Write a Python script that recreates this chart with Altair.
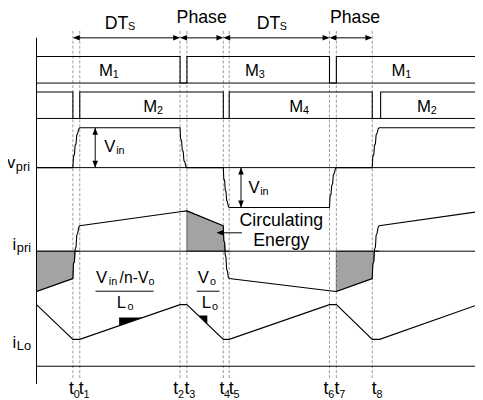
import altair as alt
import pandas as pd
import numpy as np

# ---------------- data ----------------
# switching instants t0..t8 (time units, t0 = 0)
T_NAMES = ["0", "1", "2", "3", "4", "5", "6", "7", "8"]
T_EVENTS = [0, 7, 109, 116, 153, 159, 261, 268, 304.5]
T_START, T_END = -37, 409

# gate signals (1 = on)
GATE_A_T = [-37, 109, 109, 116, 116, 261, 261, 268, 268, 409]
GATE_A_V = [1, 1, 0, 0, 1, 1, 0, 0, 1, 1]
GATE_B_T = [-37, 0, 0, 7, 7, 153, 153, 159, 159, 304.5, 304.5, 313, 313, 409]
GATE_B_V = [1, 1, 0, 0, 1, 1, 0, 0, 1, 1, 0, 0, 1, 1]

# staircase shape of a resonant transition (fraction of time / of swing)
STEP_T = [0, .08, .22, .32, .46, .56, .70, .85, 1]
STEP_V = [0, .28, .32, .55, .60, .82, .86, .97, 1]

# primary voltage (per unit of Vin): flat segments and transitions
VPRI_FLAT = [(-37, 0), (0, 0)]
VPRI_TRANS = [(0, 7, 0, 1), (109, 116, 1, 0), (153, 159, 0, -1),
              (261, 268, -1, 0), (304.5, 311.5, 0, 1)]
VPRI_END = (409, 1)

# primary current (per unit)
IPRI_PTS = [(-37, -1.0)]
IPRI_TRANS = [(0, 7, -0.68, 0.63), (109, 109, 0.98, 0.98), (116, 116, 1.0, 1.0),
              (153, 159, 0.63, -0.68), (261, 261, -0.98, -0.98), (268, 268, -1.0, -1.0),
              (304.5, 311.5, -0.68, 0.63)]
IPRI_END = (409, 0.97)

# output inductor current (per unit)
ILO_T = [-37, 0, 7, 109, 116, 153, 159, 261, 268, 304.5, 312, 409]
ILO_V = [1.79, 0.78, 0.78, 1.79, 1.79, 0.78, 0.78, 1.79, 1.79, 0.78, 0.78, 1.76]

# ---------------- layout ----------------
X0, Y0 = 74, 8          # page px of t0 / top of chart
W, H = 475, 392
ROW = {"A": (73, 27), "B": (109, 27), "vpri": (159, 40.5), "ipri": (244, 41), "ilo": (361, 35)}
FONT = "Liberation Sans"


def ypos(row, v):
    base, gain = ROW[row]
    return base - gain * np.asarray(v, dtype=float)


def build_trans(flat_start, trans, end):
    ts, vs = [p[0] for p in flat_start], [p[1] for p in flat_start]
    for a, b, v0, v1 in trans:
        if a == b:
            ts.append(a); vs.append(v0); continue
        for ft, fv in zip(STEP_T, STEP_V):
            ts.append(a + (b - a) * ft); vs.append(v0 + (v1 - v0) * fv)
    ts.append(end[0]); vs.append(end[1])
    return np.array(ts), np.array(vs)


VPRI_T, VPRI_V = build_trans(VPRI_FLAT, VPRI_TRANS, VPRI_END)
IPRI_T, IPRI_V = build_trans(IPRI_PTS, IPRI_TRANS, IPRI_END)

lines = []
def add_line(name, ts, ys):
    for i, (t, y) in enumerate(zip(ts, ys)):
        lines.append({"s": name, "i": i, "x": float(t), "y": float(y)})

add_line("gA", GATE_A_T, ypos("A", GATE_A_V))
add_line("gB", GATE_B_T, ypos("B", GATE_B_V))
add_line("vpri", VPRI_T, ypos("vpri", VPRI_V))
add_line("ipri", IPRI_T, ypos("ipri", IPRI_V))
add_line("ilo", ILO_T, ypos("ilo", ILO_V))
lines_df = pd.DataFrame(lines)

# shaded circulating-energy areas
fills = []
for k, (a, b, sign) in enumerate([(-37, 7, -1), (116, 159, 1), (268, 311.5, -1)]):
    m = (IPRI_T >= a) & (IPRI_T <= b)
    for t, v in zip(IPRI_T[m], IPRI_V[m]):
        vv = min(v, 0) if sign < 0 else max(v, 0)
        fills.append({"g": k, "x": float(t), "y": float(ypos("ipri", vv)), "y2": float(ypos("ipri", 0))})
fills_df = pd.DataFrame(fills)

# slope triangles on iLo
def ilo(t):
    return float(np.interp(t, ILO_T, ILO_V))
tri = []
a, b = 47, 71
tri += [{"g": 0, "x": a, "y": ypos("ilo", ilo(b)), "y2": ypos("ilo", ilo(a))},
        {"g": 0, "x": b, "y": ypos("ilo", ilo(b)), "y2": ypos("ilo", ilo(b))}]
a, b = 127.7, 136.7
tri += [{"g": 1, "x": a, "y": ypos("ilo", ilo(a)), "y2": ypos("ilo", ilo(a))},
        {"g": 1, "x": b, "y": ypos("ilo", ilo(a)), "y2": ypos("ilo", ilo(b))}]
tri_df = pd.DataFrame([{k: (float(v) if k != "g" else v) for k, v in d.items()} for d in tri])

# rules: baselines, axis, arrows, fraction bars
rules = []
for r in ["A", "B", "vpri", "ipri", "ilo"]:
    base = ROW[r][0]
    rules.append({"x": T_START, "x2": T_END, "y": base, "y2": base})
rules.append({"x": T_START, "x2": T_START, "y": 27, "y2": 379})
ARROW_SEGS = [(0, 109), (109, 153), (153, 261), (261, 304.5)]
for a, b in ARROW_SEGS:
    rules.append({"x": a + 2, "x2": b - 2, "y": 27, "y2": 27})
VIN_ARROWS = [(22.7, "vpri", 1), (171, "vpri", -1)]
for t, r, v in VIN_ARROWS:
    rules.append({"x": t, "x2": t, "y": float(ypos(r, 0)), "y2": float(ypos(r, v))})
CIRC = (172, 146, 225.3)
rules.append({"x": CIRC[0], "x2": CIRC[1] + 3, "y": CIRC[2], "y2": CIRC[2]})
for xa, xb in [(23, 82), (126, 149)]:
    rules.append({"x": xa, "x2": xb, "y": 284.7, "y2": 284.7})
rules_df = pd.DataFrame(rules).astype(float)

dash_df = pd.DataFrame({"x": T_EVENTS, "y": [20] * 9, "y2": [375] * 9}).astype(float)

# arrow heads: tip position and angle
HL = 3.5
heads = []
for a, b in ARROW_SEGS:
    heads.append({"x": a + HL, "y": 27, "ang": 180})
    heads.append({"x": b - HL, "y": 27, "ang": 0})
for t, r, v in VIN_ARROWS:
    y0, y1 = float(ypos(r, 0)), float(ypos(r, v))
    top, bot = min(y0, y1), max(y0, y1)
    heads.append({"x": t, "y": top + HL, "ang": 270})
    heads.append({"x": t, "y": bot - HL, "ang": 90})
heads.append({"x": CIRC[1] + HL, "y": CIRC[2], "ang": 180})
heads_df = pd.DataFrame(heads).astype(float)

# text (page px, baseline); size
texts = [
    ("DT", 106.5, 25.7, 18, "left"), ("S", 130, 27.5, 11, "left"),
    ("Phase", 205, 20, 18, "center"),
    ("DT", 261, 25.7, 18, "left"), ("S", 284.5, 27.5, 11, "left"),
    ("Phase", 361, 20, 18, "center"),
    ("M", 100.5, 74, 17, "left"), ("1", 114.5, 75.5, 11, "left"),
    ("M", 145.5, 110.5, 17, "left"), ("2", 159.5, 112.5, 11, "left"),
    ("M", 249, 74, 17, "left"), ("3", 263, 75.5, 11, "left"),
    ("M", 398, 74, 17, "left"), ("1", 412, 75.5, 11, "left"),
    ("M", 294, 110.5, 17, "left"), ("4", 308, 112.5, 11, "left"),
    ("M", 424, 110.5, 17, "left"), ("2", 438, 112.5, 11, "left"),
    ("v", 7, 167, 17, "left"), ("pri", 16, 170, 13, "left"),
    ("i", 12.5, 251, 17, "left"), ("pri", 17, 253, 13, "left"),
    ("i", 12.5, 350.5, 17, "left"), ("Lo", 17, 352.5, 13, "left"),
    ("V", 106, 151.5, 17, "left"), ("in", 118, 153.5, 11, "left"),
    ("V", 252.5, 193.3, 17, "left"), ("in", 264.5, 195.3, 11, "left"),
    ("Circulating", 286, 226.7, 18, "center"), ("Energy", 286, 246.5, 18, "center"),
    ("V", 97.5, 284.5, 17, "left"), ("in", 110.5, 286.5, 11, "left"),
    ("/n-V", 121.5, 284.5, 16, "left"), ("o", 151, 286.5, 11, "left"),
    ("L", 118.5, 310, 17, "left"), ("o", 129.5, 312, 11, "left"),
    ("V", 201, 284.5, 17, "left"), ("o", 213.5, 286.5, 11, "left"),
    ("L", 205, 310, 17, "left"), ("o", 215.5, 312, 11, "left"),
]
T_LABEL_X = [70, 80, 176, 187.5, 223, 232.5, 329, 340, 378]
for name, px in zip(T_NAMES, T_LABEL_X):
    texts.append(("t", px, 397, 18, "left"))
    texts.append((name, px + 4.8, 401, 11, "left"))
text_df = pd.DataFrame([{"text": t, "x": float(px - X0), "y": float(py - Y0), "size": s, "al": al}
                        for t, px, py, s, al in texts])

# ---------------- chart ----------------
xs = alt.Scale(domain=[-(X0 - 8), W - (X0 - 8)], nice=False, zero=False)
ys = alt.Scale(domain=[H, 0], nice=False, zero=False)


def X(f="x"):
    return alt.X(f"{f}:Q", scale=xs, axis=None)


def Y(f="y"):
    return alt.Y(f"{f}:Q", scale=ys, axis=None)


fill_layer = alt.Chart(fills_df).mark_area(color="#a3a3a3", stroke="#333333", strokeWidth=0.8,
                                           interpolate="linear").encode(
    x=X(), y=Y(), y2="y2:Q", detail="g:N")
tri_layer = alt.Chart(tri_df).mark_area(color="black").encode(x=X(), y=Y(), y2="y2:Q", detail="g:N")
dash_layer = alt.Chart(dash_df).mark_rule(color="#9a9a9a", strokeDash=[3, 2], strokeWidth=1).encode(
    x=X(), y=Y(), y2="y2:Q")
rule_layer = alt.Chart(rules_df).mark_rule(color="black", strokeWidth=1).encode(
    x=X(), x2="x2:Q", y=Y(), y2="y2:Q")
line_layer = alt.Chart(lines_df).mark_line(color="black", strokeWidth=1.1).encode(
    x=X(), y=Y(), detail="s:N", order="i:Q")
head_layer = alt.Chart(heads_df).mark_point(
    shape="M1,0L-1,-0.8L-1,0.8Z", filled=True, color="black", size=49, opacity=1).encode(
    x=X(), y=Y(), angle=alt.Angle("ang:Q", scale=None))
txt_left = alt.Chart(text_df[text_df["al"] == "left"]).mark_text(
    align="left", baseline="alphabetic", font=FONT, color="black").encode(
    x=X(), y=Y(), text="text:N", size=alt.Size("size:Q", scale=None))
txt_center = alt.Chart(text_df[text_df["al"] == "center"]).mark_text(
    align="center", baseline="alphabetic", font=FONT, color="black").encode(
    x=X(), y=Y(), text="text:N", size=alt.Size("size:Q", scale=None))

chart = alt.layer(fill_layer, tri_layer, dash_layer, rule_layer, line_layer, head_layer,
                  txt_left, txt_center).properties(
    width=W, height=H, autosize=alt.AutoSizeParams(type="none"), padding=0,
    background="white").configure_view(stroke=None)

chart.save("out.html", embed_options={"renderer": "svg", "actions": False})
